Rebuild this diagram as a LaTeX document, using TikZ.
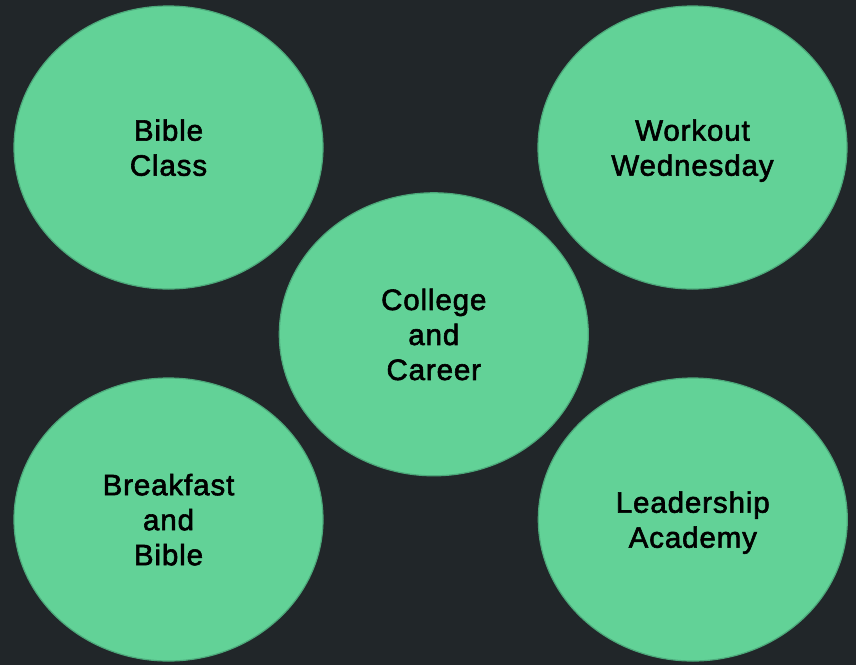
\documentclass[tikz,border=0pt]{standalone}
\usepackage{fontspec}
\setmainfont{Liberation Sans}[FakeBold=2]
\usetikzlibrary{shapes.geometric}
\definecolor{bgc}{HTML}{212629}
\definecolor{fillc}{HTML}{62D297}
\definecolor{edgec}{HTML}{4DA97B}
\tikzset{
  bubble/.style={ellipse, draw=edgec, line width=1.2pt, fill=fillc,
    minimum width=309pt, minimum height=283pt, inner sep=0pt,
    align=center, text=black, text depth=0pt,
    font=\fontsize{29.5}{35}\selectfont\addfontfeatures{LetterSpace=3}}
}
\begin{document}
\begin{tikzpicture}[x=1pt,y=-1pt]
\fill[bgc] (0,0) rectangle (856,665);
\useasboundingbox (0,0) rectangle (856,665);
\node[bubble] (bible) at (168.5,147.5) {Bible\\Class};
\node[bubble] (workout) at (692.5,147.5) {Workout\\Wednesday};
\node[bubble] (college) at (433.8,334.3) {College\\and\\Career};
\node[bubble] (breakfast) at (168.5,519.5) {Breakfast\\and\\Bible};
\node[bubble] (leader) at (692.8,519.5) {Leadership\\Academy};
\end{tikzpicture}
\end{document}
